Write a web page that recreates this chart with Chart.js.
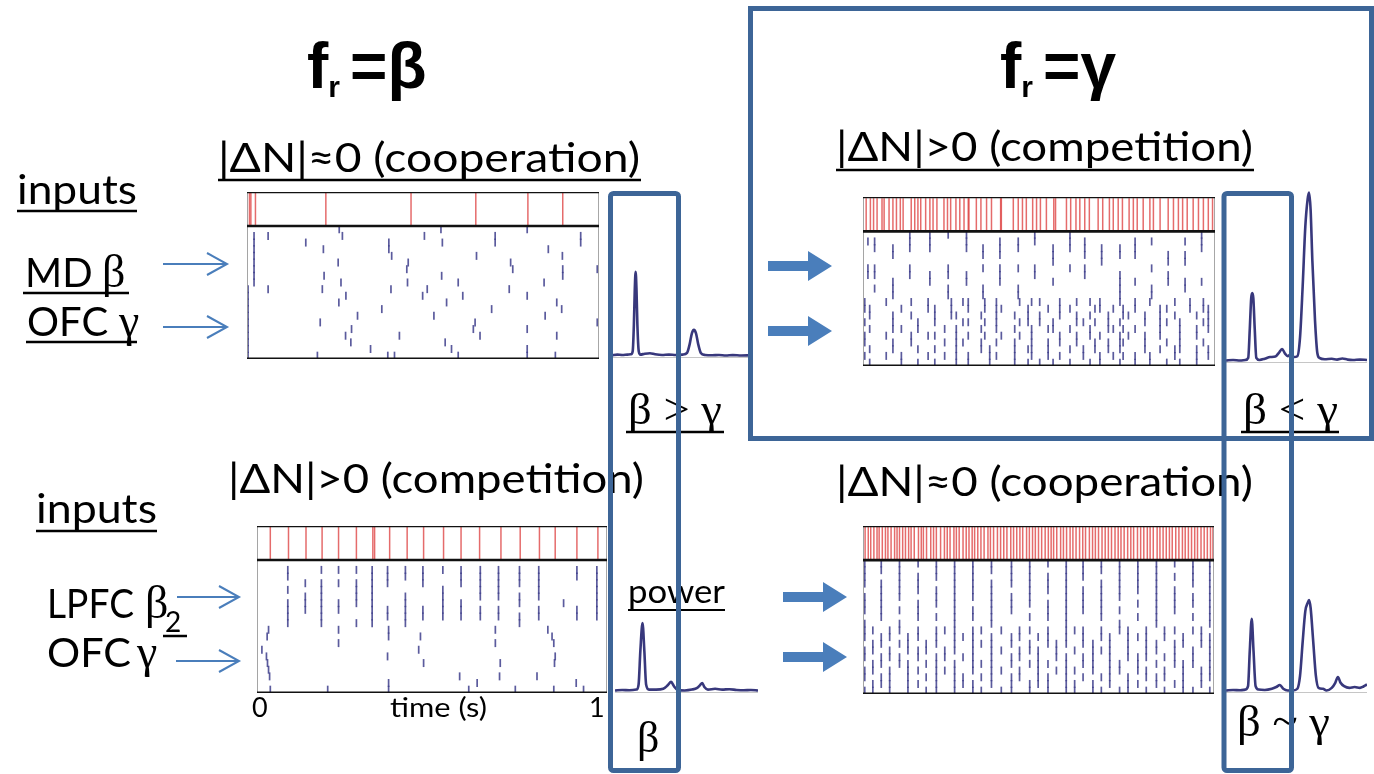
<!DOCTYPE html>
<html>
<head>
<meta charset="utf-8">
<script src="https://cdn.jsdelivr.net/npm/chart.js@4.4.0/dist/chart.umd.min.js"></script>
<style>
body { margin: 0; width: 1374px; height: 774px; background: #fff; position: relative; overflow: hidden; }
canvas { position: absolute; }
#overlay { position: absolute; left: 0; top: 0; }
.cal { font-family: Lato, 'Noto Sans', sans-serif; fill: #000; }
.ser { font-family: 'Liberation Serif', 'DejaVu Serif', serif; fill: #000; }
.ttl { font-family: 'Liberation Sans', Arial, sans-serif; font-weight: bold; fill: #000; }
</style>
</head>
<body>

<canvas id="rasterA" width="358" height="173" style="left:244px;top:189px"></canvas>
<canvas id="rasterB" width="358" height="175" style="left:860px;top:194px"></canvas>
<canvas id="rasterC" width="356" height="173" style="left:254px;top:523px"></canvas>
<canvas id="rasterD" width="357" height="174" style="left:860px;top:523px"></canvas>

<canvas id="specA" width="138" height="181" style="left:612px;top:179px"></canvas>
<canvas id="specB" width="141" height="181" style="left:1226px;top:184px"></canvas>
<canvas id="specC" width="143" height="181" style="left:615px;top:514px"></canvas>
<canvas id="specD" width="141" height="181" style="left:1226px;top:514px"></canvas>

<svg id="overlay" width="1374" height="774">
  <!-- titles -->
  <text class="ttl" x="307" y="88" font-size="64">f<tspan font-size="30" dy="9">r</tspan><tspan dy="-9" dx="10">=β</tspan></text>
  <text class="ttl" x="1000" y="88" font-size="64">f<tspan font-size="30" dy="9">r</tspan><tspan dy="-9" dx="10">=γ</tspan></text>

  <!-- panel headings -->
  <text class="cal" x="218" y="172" font-size="40" textLength="422" lengthAdjust="spacingAndGlyphs">|ΔN|≈0 (cooperation)</text>
  <line x1="218" y1="180" x2="641" y2="180" stroke="#000" stroke-width="2.5"/>
  <text class="cal" x="836" y="161" font-size="40" textLength="417" lengthAdjust="spacingAndGlyphs">|ΔN|&gt;0 (competition)</text>
  <line x1="836" y1="170" x2="1254" y2="170" stroke="#000" stroke-width="2.5"/>
  <text class="cal" x="228" y="493" font-size="40" textLength="416" lengthAdjust="spacingAndGlyphs">|ΔN|&gt;0 (competition)</text>
  <text class="cal" x="836" y="496" font-size="40" textLength="417" lengthAdjust="spacingAndGlyphs">|ΔN|≈0 (cooperation)</text>

  <!-- input labels, top row -->
  <text class="cal" x="17" y="204" font-size="40" textLength="120" lengthAdjust="spacingAndGlyphs">inputs</text>
  <line x1="17" y1="211" x2="137" y2="211" stroke="#000" stroke-width="2.5"/>
  <text class="cal" x="25" y="287" font-size="40">MD</text>
  <text class="ser" x="102" y="287" font-size="46">β</text>
  <line x1="23" y1="293" x2="129" y2="293" stroke="#000" stroke-width="2.5"/>
  <text class="cal" x="27" y="336" font-size="40">OFC</text>
  <text class="ser" x="119" y="336" font-size="46">γ</text>
  <line x1="26" y1="342" x2="137" y2="342" stroke="#000" stroke-width="2.5"/>

  <!-- input labels, bottom row -->
  <text class="cal" x="36" y="523" font-size="40" textLength="121" lengthAdjust="spacingAndGlyphs">inputs</text>
  <line x1="36" y1="531" x2="157" y2="531" stroke="#000" stroke-width="2.5"/>
  <text class="cal" x="47" y="618" font-size="40" textLength="87" lengthAdjust="spacingAndGlyphs">LPFC</text>
  <text class="ser" x="145" y="618" font-size="46">β</text>
  <text class="cal" x="165" y="632" font-size="28">2</text>
  <line x1="163" y1="636" x2="187" y2="636" stroke="#000" stroke-width="2.5"/>
  <text class="cal" x="47" y="667" font-size="40" textLength="84" lengthAdjust="spacingAndGlyphs">OFC</text>
  <text class="ser" x="137" y="667" font-size="46">γ</text>

  <!-- time axis of the lower-left raster -->
  <text class="cal" x="252" y="717" font-size="27">0</text>
  <text class="cal" x="390" y="717" font-size="27" textLength="97" lengthAdjust="spacingAndGlyphs">time (s)</text>
  <text class="cal" x="589" y="717" font-size="27">1</text>

  <!-- spectral comparisons -->
  <text class="ser" x="628" y="424" font-size="44" textLength="94" lengthAdjust="spacingAndGlyphs">β &gt; γ</text>
  <line x1="626" y1="432" x2="724" y2="432" stroke="#000" stroke-width="2.5"/>
  <text class="ser" x="1243" y="424" font-size="44" textLength="95" lengthAdjust="spacingAndGlyphs">β &lt; γ</text>
  <line x1="1241" y1="432" x2="1339" y2="432" stroke="#000" stroke-width="2.5"/>
  <text class="cal" x="628" y="603" font-size="32" textLength="97" lengthAdjust="spacingAndGlyphs">power</text>
  <line x1="628" y1="610" x2="725" y2="610" stroke="#000" stroke-width="2"/>
  <text class="ser" x="637" y="752" font-size="44">β</text>
  <text class="ser" x="1237" y="736" font-size="44" textLength="93" lengthAdjust="spacingAndGlyphs">β ~ γ</text>

  <!-- thin input arrows -->
  <g stroke="#4a7ebb" stroke-width="2" fill="none">
    <path d="M163 264 H227 M207 253 L227 264 L207 275"/>
    <path d="M163 327 H227 M207 316 L227 327 L207 338"/>
    <path d="M177 597 H239 M219 586 L239 597 L219 608"/>
    <path d="M176 661 H239 M219 650 L239 661 L219 672"/>
  </g>
  <!-- thick input arrows -->
  <g fill="#4a7ebb">
    <path d="M768 261 H808 V251 L832 266 L808 281 V271 H768 Z"/>
    <path d="M768 326 H808 V316 L832 331 L808 346 V336 H768 Z"/>
    <path d="M783 592 H823 V582 L847 597 L823 612 V602 H783 Z"/>
    <path d="M783 652 H823 V642 L847 657 L823 672 V662 H783 Z"/>
  </g>

  <!-- boxes -->
  <g stroke="#3d6597" stroke-width="5" fill="none">
    <rect x="750.5" y="8.5" width="621" height="430"/>
    <rect x="610.5" y="193.5" width="68" height="577" rx="3"/>
    <rect x="1224" y="193.5" width="67.5" height="577" rx="3"/>
  </g>
</svg>

<script>
// population spikes (red band), times in s
const redA = [0.007, 0.011, 0.024, 0.224, 0.466, 0.650, 0.798, 0.897];
const redB = [0.009, 0.021, 0.030, 0.040, 0.054, 0.060, 0.074, 0.085, 0.095, 0.106, 0.114, 0.137, 0.147,
  0.156, 0.164, 0.178, 0.190, 0.199, 0.210, 0.230, 0.240, 0.249, 0.264, 0.275, 0.287, 0.299, 0.301, 0.322,
  0.335, 0.351, 0.365, 0.391, 0.393, 0.427, 0.441, 0.453, 0.464, 0.482, 0.493, 0.504, 0.521, 0.542, 0.547,
  0.578, 0.590, 0.605, 0.616, 0.630, 0.643, 0.668, 0.681, 0.700, 0.711, 0.725, 0.737, 0.756, 0.768, 0.779,
  0.796, 0.815, 0.825, 0.844, 0.867, 0.882, 0.896, 0.908, 0.921, 0.938, 0.953, 0.967, 0.981, 0.993];
const redC = [0.038, 0.090, 0.140, 0.186, 0.233, 0.284, 0.331, 0.336, 0.379, 0.429, 0.476, 0.533, 0.583,
  0.636, 0.697, 0.752, 0.807, 0.852, 0.914, 0.974];
const redD = [0.006, 0.015, 0.022, 0.031, 0.040, 0.046, 0.055, 0.064, 0.071, 0.080, 0.090, 0.097, 0.104,
  0.113, 0.121, 0.130, 0.137, 0.146, 0.158, 0.166, 0.172, 0.181, 0.193, 0.201, 0.209, 0.221, 0.232, 0.240,
  0.248, 0.259, 0.266, 0.274, 0.285, 0.294, 0.302, 0.311, 0.318, 0.327, 0.336, 0.345, 0.356, 0.363, 0.372,
  0.383, 0.392, 0.401, 0.410, 0.421, 0.429, 0.438, 0.447, 0.455, 0.466, 0.474, 0.483, 0.491, 0.500, 0.509,
  0.519, 0.528, 0.536, 0.543, 0.552, 0.563, 0.571, 0.580, 0.590, 0.598, 0.607, 0.617, 0.626, 0.634, 0.645,
  0.654, 0.662, 0.671, 0.681, 0.690, 0.699, 0.708, 0.718, 0.727, 0.735, 0.744, 0.754, 0.763, 0.771, 0.782,
  0.791, 0.800, 0.810, 0.818, 0.827, 0.838, 0.846, 0.855, 0.864, 0.873, 0.881, 0.891, 0.900, 0.910, 0.918,
  0.927, 0.936, 0.945, 0.953, 0.963, 0.972, 0.981, 0.990, 0.997];

// single-neuron spikes, one list per neuron (row 0 at top)
const rowsA = [
  [0.262, 0.551, 0.796],
  [0.02, 0.060, 0.271, 0.504, 0.705, 0.948],
  [0.02, 0.167, 0.403, 0.555, 0.705, 0.948],
  [0.02, 0.217, 0.403, 0.856],
  [0.02, 0.411, 0.652, 0.896],
  [0.02, 0.259, 0.458, 0.749],
  [0.02, 0.454, 0.755, 0.897, 0.995],
  [0.02, 0.219, 0.553, 0.897],
  [0.02, 0.267, 0.456, 0.600, 0.844],
  [0.003, 0.060, 0.214, 0.409, 0.512, 0.745],
  [0.003, 0.281, 0.499, 0.613, 0.796],
  [0.003, 0.261, 0.567, 0.880],
  [0.003, 0.383, 0.695, 0.894],
  [0.003, 0.314, 0.531, 0.847],
  [0.003, 0.208, 0.648, 0.995],
  [0.003, 0.297, 0.643, 0.796],
  [0.003, 0.280, 0.433, 0.662, 0.880],
  [0.003, 0.295, 0.563],
  [0.003, 0.351, 0.581, 0.796],
  [0.003, 0.200, 0.400, 0.419, 0.600, 0.796, 0.876]
];

// rhythmic panels: cycle times + which neuron fires on each cycle ('x')
const colsBtop = [0.014, 0.033, 0.085, 0.133, 0.190, 0.242, 0.294, 0.341, 0.389, 0.441, 0.488, 0.540, 0.588,
  0.630, 0.678, 0.730, 0.773, 0.820, 0.867, 0.915, 0.962];
const patBtop = [
  "...xxxx...x.x.......x",
  "xx.xx.x.xxx.xx..xx.xx",
  ".xxxx.xxxx.xxxxxx...x",
  "..x....xx..x.xxxx.xx.",
  "...........x..x...xx.",
  "xx.x.x.xxxx.xx...x...",
  "xx.xxxx.x.x..x.x..x..",
  "..x.x.x.x..x...xx.xxx",
  ".xx..x.x.x.....x.x.x.",
  "..x..x.x.x.....x.x..."
];
const colsBbot = [0.005, 0.019, 0.066, 0.085, 0.109, 0.137, 0.156, 0.185, 0.204, 0.232, 0.251, 0.265, 0.284,
  0.299, 0.336, 0.346, 0.360, 0.379, 0.393, 0.431, 0.445, 0.469, 0.479, 0.502, 0.526, 0.540, 0.559, 0.588,
  0.607, 0.626, 0.645, 0.659, 0.673, 0.697, 0.711, 0.730, 0.739, 0.754, 0.773, 0.801, 0.815, 0.844, 0.863,
  0.886, 0.900, 0.929, 0.948, 0.967, 0.981];
const patBbot = [
  "x.x..x.x..x.xx.x.x..x.xx..x.x.x.x..x..x.x..x.x.x..",
  "xx..x..xx.x..x.x.xx..x..x.xx...xx.x.x.x..xx..x.xx",
  ".x.x.x..x.xx..x..x.x.x.x..x.x.x..x..xx.x.x.x..x.x",
  "x..x..x.x...xx.x.x..xx.x.x..xx.x.x.x...x.xx.x..xx",
  ".x.xx.x..x.x..x..x.x..x.xx.x..x..xx.x.x..x..x.x.x",
  "x.x..x.xx..x.x.x..x.x.x...x.x.x.x..x.x.x.x..x.x..",
  "x..x.x...x.xx.x..x.x..x.x.x.x..x.x.xx..x..x.x..x.",
  ".x.x..x.x..x..x.x..x.xx.x..x.x.x.x.x...x.x.xx.x.x",
  "x.x.x..x.x.x.x..xx.x..x.x.x..x..x.x.x.x.x..x..x.x",
  ".x..x.x.x..x.x..x..x.x.x.x.x..x.x..x..x.x.x.x.x.."
];

const colsCtop = [0.088, 0.138, 0.184, 0.233, 0.284, 0.329, 0.373, 0.424, 0.474, 0.531, 0.583, 0.638, 0.690,
  0.750, 0.805, 0.876, 0.914, 0.971];
const patCtop = [
  "..................",
  "x.xxxxxxxxxxxxx.xx",
  "x....xxxx.xxxxx.xx",
  ".xxxxxx.x.xxxxx..x",
  "x.x.xx...x.xx.x..x",
  ".xx.xx.x.x.xxxx..x",
  "xxxxxx.x.xx..x.x.x",
  "xxxx.xxxxxxxx.x.xx",
  "x.x..xxxxxxxxxx.xx",
  "x.x.xx.x.....x...."
];
const rowsCbot = [
  [0.033, 0.233, 0.376, 0.681, 0.831],
  [0.029, 0.376, 0.467, 0.843],
  [0.233, 0.681, 0.848],
  [0.014, 0.462],
  [0.027, 0.373, 0.852],
  [0.030, 0.476, 0.695, 0.850],
  [0.033],
  [0.036, 0.579, 0.693, 0.800],
  [0.376, 0.629, 0.912],
  [0.038, 0.202, 0.376, 0.605, 0.738, 0.848, 0.933]
];

const colsDtop = [0.005, 0.052, 0.104, 0.157, 0.209, 0.261, 0.313, 0.366, 0.423, 0.475, 0.527, 0.579, 0.627,
  0.679, 0.731, 0.783, 0.836, 0.888, 0.940, 0.988];
const patDtop = [
  "xxxxxxxxxxxxxxxxxxxx",
  "xxx.xxxxxx.xxxxxx.xx",
  "x.xxxxx.xxxxx.xxxxxx",
  "xxxx.xxxxxxx.xxxx.xx",
  ".xxxxxxx.xxxxxxxxx.x",
  "xxx.xxxxxx.xxxx.xxxx",
  "xx.xxx.xxxxxxx.xxxxx",
  "xxxx.xxxx.xxxxx.xx.x",
  ".x.xxxxx.xxx.x.xx.xx",
  "x.x..x.x...x..x.x..x"
];
const colsDbot = [0.005, 0.028, 0.052, 0.076, 0.104, 0.128, 0.157, 0.180, 0.209, 0.233, 0.261, 0.285, 0.313,
  0.337, 0.366, 0.394, 0.423, 0.446, 0.475, 0.499, 0.527, 0.551, 0.579, 0.603, 0.627, 0.655, 0.679, 0.703,
  0.731, 0.755, 0.783, 0.807, 0.836, 0.859, 0.888, 0.912, 0.940, 0.964, 0.988];
const patDbot = [
  "xx.xx.x.xxx.xx.x.xx.x.xxx.x.xx.x.xx.xx.",
  "x.xx.xx.x.xxx.x.xx.xx.x.x.xx.xxx.x.x.xx",
  ".xx.xx.xx.x.xxx.x.x.xxx.xx.x.x.xx.xx.xx",
  "xx.x.xxx.xx.x.xx.xxx.x.x.xxx.x.xx.x.x.x",
  "x.xxx.x.xx.xx.x.xx.x.xx.xx.x.xxx.xx.x.x",
  ".xx.xx.xx.x.xxx.x.xxx.x.xx.xx.x.x.xxx.x",
  "xx.x.xx.xxx.x.xx.x.x.xxx.x.xx.xx.x.x.xx",
  "x.xx.x.xx.xx.xx.xx.xx.x.x.xx.x.xxx.x.xx",
  ".xxx.xx.x.xxx.x.x.xxx.xx.x.x.xx.x.xx.x.",
  "xx.x.x.xx.x.xx.xx.x.x.xx.xx.xx.x.x.xx.x"
];

// power spectra: [frequency (Hz), power (a.u.)]
const specA = [[0, 1.5], [3, 2], [6, 1.8], [9, 2], [11, 2.2], [12, 4], [12.7, 20], [13.2, 40], [13.7, 50.6],
  [14.2, 40], [14.7, 20], [15.5, 4], [16.5, 2], [19, 2.5], [22, 2.8], [25, 2.2], [29, 1.8], [33, 2], [37, 1.8],
  [41, 2], [43.5, 3], [45, 8], [46.3, 14.5], [47.5, 16.5], [48.7, 14.5], [50, 8], [51.5, 3], [54, 1.8],
  [58, 1.6], [62, 1.8], [66, 1.5], [70, 1.7], [75, 1.5], [80, 1.6]];
const specB = [[0, 1.5], [4, 1.8], [8, 1.5], [11, 1.8], [12.6, 3], [13.5, 20], [14.3, 38], [14.9, 41],
  [15.5, 38], [16.3, 20], [17.2, 3], [19, 1.8], [22, 2.5], [25, 3.5], [28, 3.8], [30, 6], [31.8, 8.2],
  [33.5, 5.5], [35, 4], [36.5, 5], [38.5, 3.5], [40.5, 4], [42, 15], [43.5, 45], [45, 80], [46.3, 96],
  [47.1, 100], [48, 90], [49, 60], [50.5, 25], [51.8, 6], [53, 3], [56, 2.2], [60, 2.5], [63, 2], [66, 2.6],
  [69, 2], [72, 1.8], [76, 2], [80, 1.8]];
const specC = [[0, 1.5], [4, 1.8], [8, 1.6], [12, 2], [13.2, 5], [14.2, 25], [15.4, 41], [16.4, 25],
  [17.4, 5], [19, 2], [23, 2], [27, 2.5], [29.5, 4.5], [31.4, 6.5], [33, 4], [35, 1.8], [39, 1.5], [43, 2],
  [46, 3], [47.5, 4.5], [48.8, 5.9], [50, 3.5], [52, 2], [56, 2.5], [60, 2], [64, 2.2], [68, 1.8], [72, 1.6],
  [76, 1.8], [80, 1.5]];
const specD = [[0, 1.5], [4, 1.8], [8, 1.6], [11, 2], [12.5, 4], [13.5, 25], [14.6, 43.5], [15.6, 25],
  [16.8, 4], [18.5, 2], [22, 1.8], [26, 2.5], [28.5, 3.5], [30.6, 4.7], [32.5, 2.5], [35, 1.5], [38, 1.5],
  [40.5, 2.5], [42, 10], [43.5, 30], [45, 48], [46.4, 53], [47.1, 54.5], [48, 50], [49.5, 30], [51, 10],
  [52.5, 3], [55, 2.5], [57, 1.5], [60, 3], [62, 6], [63.5, 9.4], [65, 6], [67, 4], [70, 3], [73, 3.5],
  [76, 3], [78, 3.8], [80, 5]];

const BAND = 5.1;         // height of the red band, in neuron rows
const NROWS = 20;
const RED = 'rgba(222, 70, 70, 0.8)';
const BLUE = 'rgba(62, 62, 140, 0.85)';

function fromRows(rows, first) {
  const out = [];
  rows.forEach((ts, i) => ts.forEach(t => out.push({x: t, y: first + i + 0.5})));
  return out;
}
function fromPattern(cols, pat, first) {
  const out = [];
  pat.forEach((s, i) => {
    for (let j = 0; j < cols.length && j < s.length; j++) {
      if (s[j] === 'x') out.push({x: cols[j], y: first + i + 0.5});
    }
  });
  return out;
}
function hline(y, color, w) {
  return {data: [{x: 0, y: y}, {x: 1, y: y}], showLine: true, borderColor: color, borderWidth: w, pointRadius: 0};
}
function vline(x, color, w) {
  return {data: [{x: x, y: -BAND}, {x: x, y: NROWS}], showLine: true, borderColor: color, borderWidth: w, pointRadius: 0};
}

const quiet = {
  animation: false, responsive: false, events: [],
  plugins: {legend: {display: false}, tooltip: {enabled: false}}
};

function raster(id, red, spikes) {
  new Chart(document.getElementById(id), {
    type: 'scatter',
    data: {datasets: [
      hline(-BAND, '#111', 2.6), hline(0, '#111', 2.6), hline(NROWS, '#111', 2.8),
      vline(0, '#9a9a9a', 1), vline(1, '#9a9a9a', 1),
      {data: red.map(t => ({x: t, y: -BAND / 2})), pointStyle: 'line', rotation: 90,
       pointRadius: 16, borderColor: RED, pointBorderWidth: 1.5},
      {data: spikes, pointStyle: 'line', rotation: 90, pointRadius: 4,
       borderColor: BLUE, pointBorderWidth: 1.7}
    ]},
    options: Object.assign({}, quiet, {
      layout: {padding: 3, autoPadding: false},
      scales: {
        x: {type: 'linear', min: 0, max: 1, display: false},
        y: {type: 'linear', min: -BAND, max: NROWS, reverse: true, display: false}
      }
    })
  });
}

function spectrum(id, pts) {
  new Chart(document.getElementById(id), {
    type: 'line',
    data: {datasets: [
      {data: pts.map(p => ({x: p[0], y: p[1]})), borderColor: '#38387c', borderWidth: 2.6,
       pointRadius: 0, cubicInterpolationMode: 'monotone'},
      {data: [{x: 0, y: 0}, {x: 80, y: 0}], borderColor: '#8c8c8c', borderWidth: 1, pointRadius: 0}
    ]},
    options: Object.assign({}, quiet, {
      layout: {padding: {bottom: 2}, autoPadding: false},
      scales: {
        x: {type: 'linear', min: 0, max: 80, display: false},
        y: {min: 0, max: 105, display: false}
      }
    })
  });
}

raster('rasterA', redA, fromRows(rowsA, 0));
raster('rasterB', redB, fromPattern(colsBtop, patBtop, 0).concat(fromPattern(colsBbot, patBbot, 10)));
raster('rasterC', redC, fromPattern(colsCtop, patCtop, 0).concat(fromRows(rowsCbot, 10)));
raster('rasterD', redD, fromPattern(colsDtop, patDtop, 0).concat(fromPattern(colsDbot, patDbot, 10)));

spectrum('specA', specA);
spectrum('specB', specB);
spectrum('specC', specC);
spectrum('specD', specD);
</script>
</body>
</html>
